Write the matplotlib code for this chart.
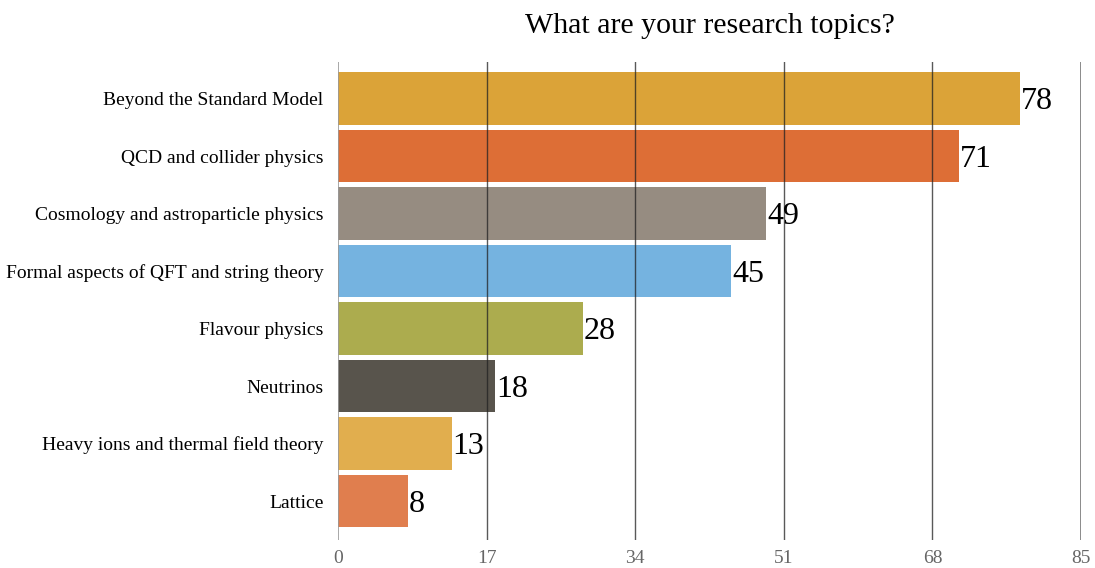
import matplotlib

matplotlib.use("Agg")
import matplotlib.pyplot as plt

# Survey answers, top to bottom
topics = [
    "Beyond the Standard Model",
    "QCD and collider physics",
    "Cosmology and astroparticle physics",
    "Formal aspects of QFT and string theory",
    "Flavour physics",
    "Neutrinos",
    "Heavy ions and thermal field theory",
    "Lattice",
]
counts = [78, 71, 49, 45, 28, 18, 13, 8]
bar_colors = ["#DBA338", "#DD6E36", "#968C81", "#75B3E0",
              "#ACAC4E", "#58544C", "#E1AE4E", "#E07E4E"]
xticks = [0, 17, 34, 51, 68, 85]

plt.rcParams["font.family"] = ["Liberation Serif", "DejaVu Serif"]

fig = plt.figure(figsize=(10.95, 5.68), dpi=100)
ax = fig.add_axes([0.3087, 0.0493, 0.6785, 0.8415])

ypos = list(range(len(topics)))[::-1]
ax.barh(ypos, counts, height=0.92, color=bar_colors, zorder=1)

# value labels, baseline set so the digits sit centred on the bar
for y, v in zip(ypos, counts):
    ax.text(v + 0.1, y - 0.19, str(v), ha="left", va="baseline", fontsize=23, zorder=3)

# vertical grid drawn over the bars
for t in xticks:
    if t == 0:
        ax.axvline(t, color="#999999", linewidth=1.2, zorder=2)
    elif t == xticks[-1]:
        ax.axvline(t, color="#777777", linewidth=1.2, zorder=2)
    else:
        ax.axvline(t, color="#222222", linewidth=1.0, alpha=0.75, zorder=2)

ax.set_xlim(0, 85)
ax.set_ylim(-0.678, 7.635)
ax.set_yticks(ypos)
ax.set_yticklabels(topics, fontsize=14)
ax.set_xticks(xticks)
ax.set_xticklabels([str(t) for t in xticks], fontsize=14, color="#666666")
ax.tick_params(axis="both", length=0)
ax.tick_params(axis="y", pad=10.5)
ax.tick_params(axis="x", pad=7)
for s in ax.spines.values():
    s.set_visible(False)

fig.text(0.6484, 0.955, "What are your research topics?", ha="center", va="center", fontsize=21.5)

fig.savefig("out.png", dpi=100)
